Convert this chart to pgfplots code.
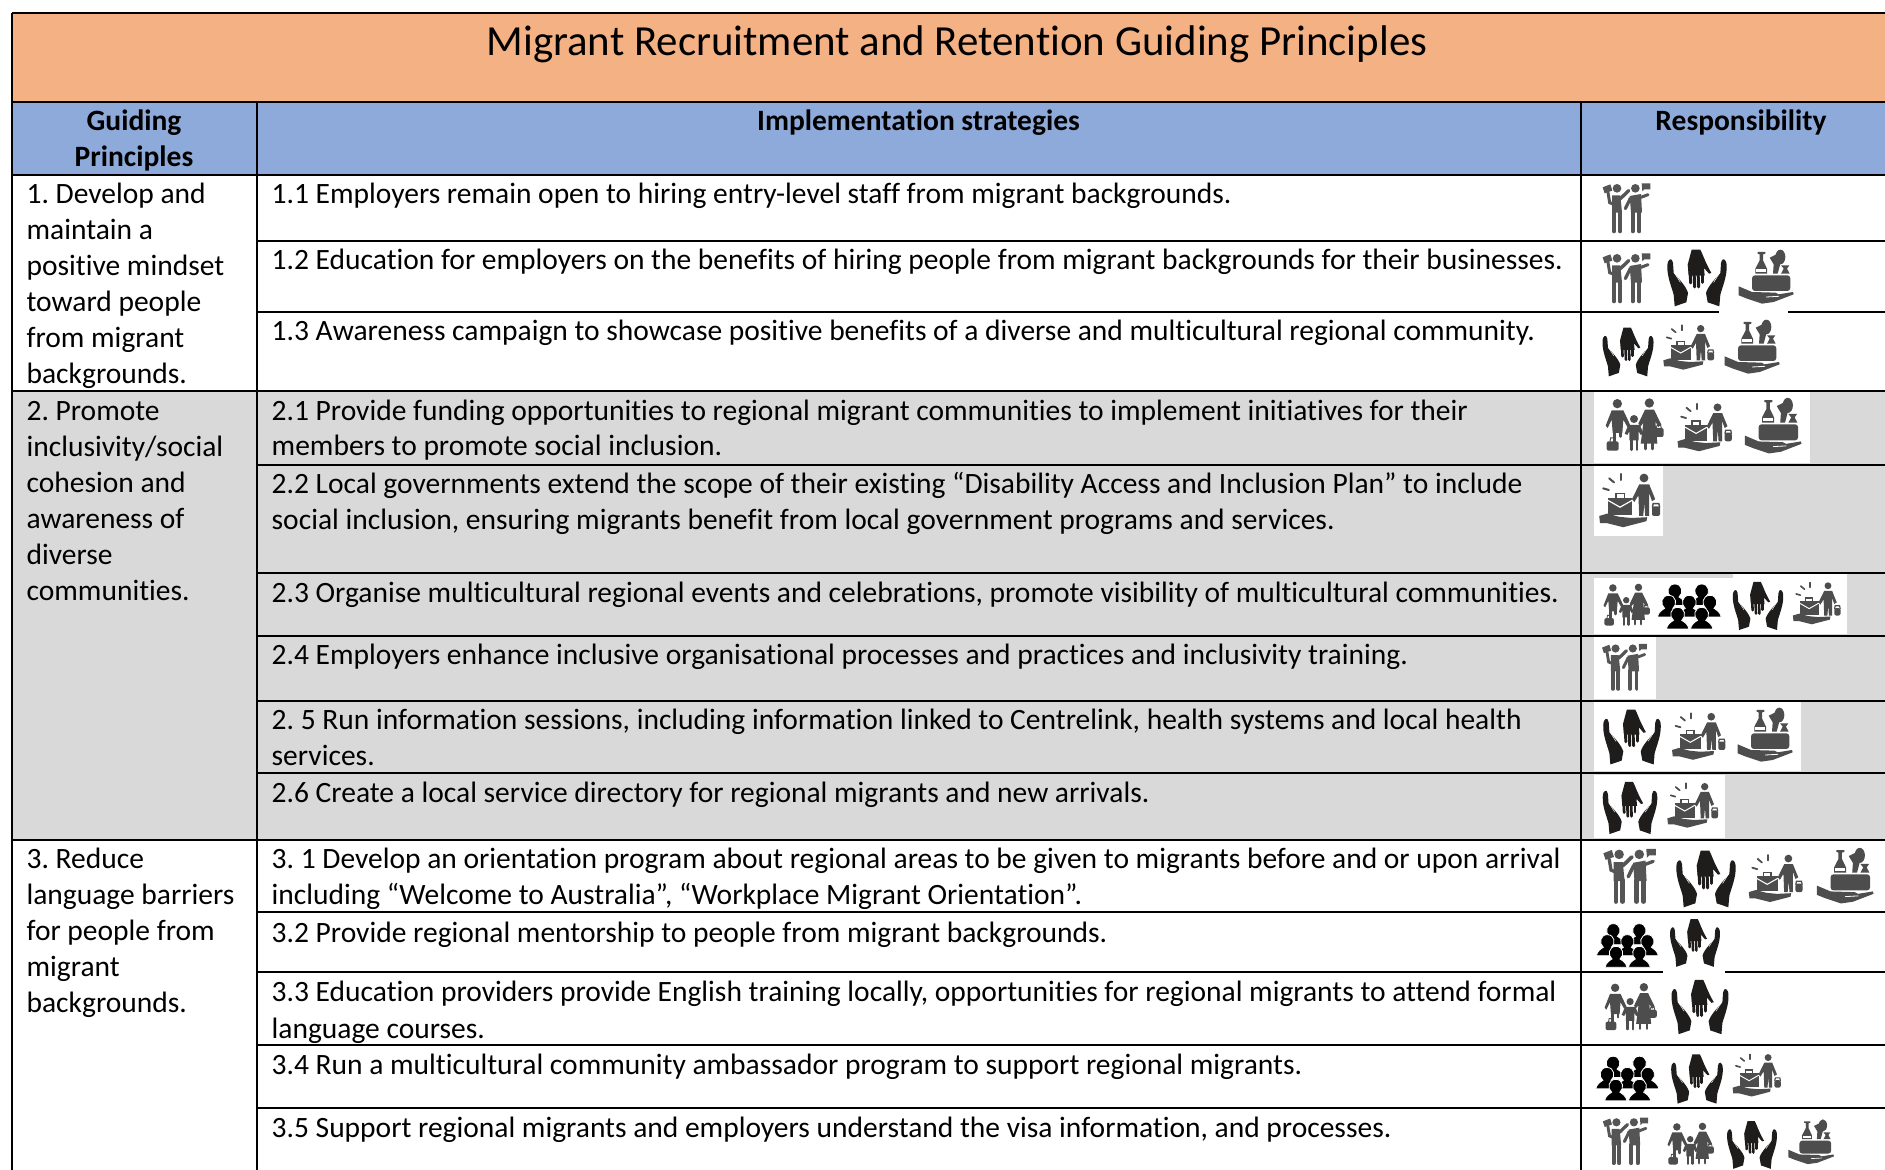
\documentclass[border=0pt]{standalone}
\usepackage{pgfplots}
\pgfplotsset{compat=1.18}
\usepackage{fontspec}
\setmainfont{Carlito}[RawFeature={-liga}]
\definecolor{orangeH}{HTML}{F4B183}
\definecolor{blueH}{HTML}{8EAADB}
\definecolor{grayR}{HTML}{D9D9D9}
\definecolor{icA}{HTML}{555555}
\definecolor{icB}{HTML}{4D4D4D}
\definecolor{icC}{HTML}{1F1C1C}
\newcommand{\bodyf}{\fontsize{29.5}{36}\selectfont\frenchspacing}
\newcommand{\T}[3]{\node[anchor=base west,inner sep=0pt,font=\bodyf,text=black] at (axis cs:#1,#2) {#3};}
\newcommand{\C}[3]{\node[anchor=base,inner sep=0pt,font=\bodyf\bfseries,text=black] at (axis cs:#1,#2) {#3};}
\newcommand{\HL}[3]{\addplot[black,line width=2pt] coordinates {(#1,#3) (#2,#3)};}
\newcommand{\BX}[5]{\addplot[fill=#5,draw=none] coordinates {(#1,#2) (#3,#2) (#3,#4) (#1,#4)} --cycle;}
\newcommand{\ic}[4]{\def\sc{#4}\pic[scale=0.3333*#4] at (#2,-#3) {#1};}
\tikzset{
 pics/workers/.style={code={
  \begin{scope}[yscale=-1,shift={(-167,-114)},fill=icA,draw=icA,line cap=round]
   \fill (140,55) circle (13);
   \fill (195,55) circle (13);
   \fill (97,52)--(120,43)--(126,62)--(103,70)--cycle;
   \fill (214,40)--(240,40)--(240,58)--(222,58)--(216,64)--cycle;
   \fill (125,76)--(150,76)--(155,128)--(125,128)--cycle;
   \fill (178,78)--(212,72)--(215,128)--(182,128)--cycle;
   \draw[line width={3.4pt*\sc}] (150,86)--(175,62);
   \draw[line width={3pt*\sc}] (113,68)--(118,98)--(142,108);
   \draw[line width={4pt*\sc}] (131,125)--(131,184);
   \draw[line width={4pt*\sc}] (149,125)--(149,184);
   \draw[line width={4pt*\sc}] (187,125)--(187,184);
   \draw[line width={4pt*\sc}] (207,125)--(207,184);
   \draw[line width={3pt*\sc}] (212,82)--(233,74);
   \draw[line width={3.2pt*\sc}] (180,85)--(165,116);
  \end{scope}}},
 pics/hands/.style={code={
  \begin{scope}[yscale=-1,shift={(-382,-325)},fill=icC,draw=icC,line cap=round]
   \fill (293,290) .. controls (293,265) and (308,262) .. (310,280) -- (312,310) .. controls (325,325) and (350,350) .. (355,370) -- (350,398) -- (315,410) -- (312,375) .. controls (305,350) and (292,320) .. (293,290) -- cycle;
   \fill (471,290) .. controls (471,265) and (456,262) .. (454,280) -- (452,310) .. controls (439,325) and (414,350) .. (409,370) -- (414,398) -- (449,410) -- (452,375) .. controls (459,350) and (472,320) .. (471,290) -- cycle;
   \fill (366,240) -- (392,240) .. controls (400,255) and (405,275) .. (425,310) -- (418,312) -- (403,295) -- (405,318) -- (357,318) -- (354,285) -- cycle;
   \draw[line width={3pt*\sc}] (361,300)--(363,340);
   \draw[line width={3pt*\sc}] (373,305)--(375,352);
   \draw[line width={3pt*\sc}] (385,305)--(387,352);
   \draw[line width={3pt*\sc}] (398,305)--(398,338);
   \draw[white,line width={.5pt*\sc}] (314,310)--(332,338);
   \draw[white,line width={.5pt*\sc}] (450,310)--(432,338);
  \end{scope}}},
 pics/brief/.style={code={
  \begin{scope}[yscale=-1,shift={(-357,-532)},fill=icB,draw=icB,line cap=round]
   \fill (392,477) circle (11);
   \fill (380,493)--(405,493)--(420,530)--(412,535)--(405,515)--(405,572)--(395,572)--(393,540)--(390,572)--(380,572)--(378,520)--(368,537)--(362,530)--cycle;
   \fill[rounded corners=2] (412,548) rectangle (432,572);
   \draw[line width={1.2pt*\sc}] (413,550)--(415,541)--(429,541)--(431,550);
   \fill (302,527) rectangle (362,570);
   \draw[line width={1.5pt*\sc}] (321,527)--(321,516)--(343,516)--(343,527);
   \draw[white,line width={1pt*\sc}] (302,533)--(332,550)--(362,533);
   \fill (280,572)--(300,566)--(330,574)--(360,577)--(400,575)--(398,585)--(340,600)--(300,590)--(282,590)--cycle;
   \draw[line width={1.7pt*\sc}] (290,503)--(304,507);
   \draw[line width={1.7pt*\sc}] (305,478)--(317,488);
   \draw[line width={1.7pt*\sc}] (335,467)--(335,482);
  \end{scope}}},
 pics/food/.style={code={
  \begin{scope}[yscale=-1,shift={(-547,-530)},fill=icB,draw=icB,line cap=round]
   \fill (522,455)--(545,455)--(545,460)--(538,462)--(538,480)--(550,505)--(550,520)--(515,520)--(515,505)--(528,480)--(528,462)--(522,460)--cycle;
   \fill[white] (518,507) rectangle (547,515);
   \fill (590,470) ellipse (15 and 22);
   \fill (558,472)--(578,462)--(590,490)--(582,520)--(568,520)--(570,492)--cycle;
   \fill (592,495)--(617,495)--(610,505)--(618,520)--(592,520)--(600,505)--cycle;
   \fill[rounded corners=3] (505,525) rectangle (620,572);
   \fill (465,558)--(505,575)--(575,577)--(585,582)--(628,575)--(630,582)--(570,605)--(535,610)--(490,595)--(465,585)--cycle;
   \draw[white,line width={.8pt*\sc}] (548,590)--(585,588);
  \end{scope}}},
 pics/family/.style={code={
  \begin{scope}[yscale=-1,shift={(-195,-766)},fill=icB,draw=icB,line cap=round]
   \fill (142,702) circle (14);
   \fill (238,700) circle (14);
   \fill (192,748) circle (12);
   \fill (125,722)--(160,722)--(180,765)--(172,772)--(160,750)--(157,790)--(128,790)--(125,750)--(113,775)--(107,768)--cycle;
   \draw[line width={3pt*\sc}] (133,785)--(133,838);
   \draw[line width={3pt*\sc}] (152,785)--(152,800);
   \fill (225,720)--(252,720)--(274,765)--(265,772)--(256,755)--(262,822)--(212,822)--(220,760)--(212,770)--(205,762)--cycle;
   \draw[line width={3pt*\sc}] (225,820)--(225,838);
   \draw[line width={3pt*\sc}] (248,820)--(248,838);
   \fill (175,766)--(210,766)--(220,792)--(212,796)--(206,785)--(206,812)--(178,812)--(178,785)--(172,796)--(164,792)--cycle;
   \draw[line width={2.8pt*\sc}] (184,808)--(184,840);
   \draw[line width={2.8pt*\sc}] (201,808)--(201,840);
   \fill[rounded corners=2] (110,815) rectangle (146,843);
   \draw[line width={1pt*\sc}] (120,815)--(122,805)--(134,805)--(136,815);
   \fill[rounded corners=2] (252,775) rectangle (281,802);
   \draw[line width={1pt*\sc}] (259,775)--(261,767)--(272,767)--(274,775);
  \end{scope}}},
 pics/crowd/.style={code={
  \begin{scope}[yscale=-1,shift={(-174,-318)},line cap=round]
   \foreach \px/\py in {130/272,208/272,112/305,232/305,172/305,138/340,208/340}{
    \filldraw[fill=black,draw=white,line width={.8pt*\sc}] (\px-33,\py+42) .. controls (\px-30,\py+28) and (\px-20,\py+22) .. (\px-12,\py+17) .. controls (\px-26,\py+6) and (\px-22,\py-21) .. (\px,\py-21) .. controls (\px+22,\py-21) and (\px+26,\py+6) .. (\px+12,\py+17) .. controls (\px+20,\py+22) and (\px+30,\py+28) .. (\px+33,\py+42) -- cycle;
   }
  \end{scope}}}
}
\begin{document}
\begin{tikzpicture}
\useasboundingbox (0,0) rectangle (1885pt,1170pt);
\begin{axis}[scale only axis,width=1885pt,height=1170pt,xmin=0,xmax=1885,ymin=0,ymax=1170,y dir=reverse,hide axis,clip=true]
% fills
\BX{12}{13}{1885}{102}{orangeH}
\BX{12}{102}{1885}{175}{blueH}
\BX{12}{391}{1885}{840}{grayR}
% rules
\HL{12}{1885}{13}
\HL{12}{1885}{102}
\HL{12}{1885}{175}
\HL{257}{1885}{241}
\HL{257}{1885}{312}
\HL{12}{1885}{391}
\HL{257}{1885}{465}
\HL{257}{1885}{573}
\HL{257}{1885}{636}
\HL{257}{1885}{701}
\HL{257}{1885}{773}
\HL{12}{1885}{840}
\HL{257}{1885}{912}
\HL{257}{1885}{972}
\HL{257}{1885}{1045}
\HL{257}{1885}{1108}
\addplot[black,line width=2pt] coordinates {(12,13) (12,1170)};
\addplot[black,line width=2pt] coordinates {(257,102) (257,1170)};
\addplot[black,line width=2pt] coordinates {(1581,102) (1581,1170)};
% white patches behind the icons
\BX{1594}{392}{1810}{463}{white}
\BX{1594}{466}{1663}{536}{white}
\BX{1594}{578}{1733}{634}{white}
\BX{1733}{574}{1847}{634}{white}
\BX{1594}{637}{1656}{699}{white}
\BX{1594}{702}{1801}{771}{white}
\BX{1594}{775}{1725}{838}{white}
\BX{1719}{310}{1788}{314}{white}
\BX{1663}{970}{1725}{974}{white}
% title
\node[anchor=base,inner sep=0pt,font=\fontsize{42.9}{48}\selectfont,text=black] at (axis cs:957,55) {Migrant Recruitment and Retention Guiding Principles};
\C{134}{130}{Guiding}
\C{134}{166}{Principles}
\C{918.5}{130}{Implementation strategies}
\C{1741}{130}{Responsibility}
% first column
\T{26.4}{203}{1. Develop and}
\T{26.4}{239}{maintain a}
\T{26.4}{275}{positive mindset}
\T{26.4}{311}{toward people}
\T{26.4}{347}{from migrant}
\T{26.4}{383}{backgrounds.}
\T{26.4}{420.5}{2. Promote}
\T{26.4}{456.5}{inclusivity/social}
\T{26.4}{492}{cohesion and}
\T{26.4}{528}{awareness of}
\T{26.4}{564}{diverse}
\T{26.4}{600}{communities.}
\T{26.4}{868}{3. Reduce}
\T{26.4}{904}{language barriers}
\T{26.4}{940}{for people from}
\T{26.4}{976}{migrant}
\T{26.4}{1012}{backgrounds.}
% second column
\T{271.5}{203}{1.1 Employers remain open to hiring entry-level staff from migrant backgrounds.}
\T{271.5}{269}{1.2 Education for employers on the benefits of hiring people from migrant backgrounds for their businesses.}
\T{271.5}{340}{1.3 Awareness campaign to showcase positive benefits of a diverse and multicultural regional community.}
\T{271.5}{420}{2.1 Provide funding opportunities to regional migrant communities to implement initiatives for their}
\T{271.5}{455}{members to promote social inclusion.}
\T{271.5}{493}{2.2 Local governments extend the scope of their existing “Disability Access and Inclusion Plan” to include}
\T{271.5}{529}{social inclusion, ensuring migrants benefit from local government programs and services.}
\T{271.5}{602}{2.3 Organise multicultural regional events and celebrations, promote visibility of multicultural communities.}
\T{271.5}{664}{2.4 Employers enhance inclusive organisational processes and practices and inclusivity training.}
\T{271.5}{729}{2. 5 Run information sessions, including information linked to Centrelink, health systems and local health}
\T{271.5}{765}{services.}
\T{271.5}{802}{2.6 Create a local service directory for regional migrants and new arrivals.}
\T{271.5}{868}{3. 1 Develop an orientation program about regional areas to be given to migrants before and or upon arrival}
\T{271.5}{904}{including “Welcome to Australia”, “Workplace Migrant Orientation”.}
\T{271.5}{942}{3.2 Provide regional mentorship to people from migrant backgrounds.}
\T{271.5}{1001}{3.3 Education providers provide English training locally, opportunities for regional migrants to attend formal}
\T{271.5}{1038}{language courses.}
\T{271.5}{1074}{3.4 Run a multicultural community ambassador program to support regional migrants.}
\T{271.5}{1137}{3.5 Support regional migrants and employers understand the visa information, and processes.}
\end{axis}
\begin{scope}[x=1pt,y=1pt,yshift=1170pt]
\ic{workers}{1626}{208}{1}
\ic{workers}{1626}{278}{1}
\ic{hands}{1697}{278}{1}
\ic{food}{1766}{277}{1}
\ic{hands}{1628}{352}{.86}
\ic{brief}{1689}{347}{1}
\ic{food}{1752}{347}{1}
\ic{family}{1635}{425}{1}
\ic{brief}{1705}{427}{1.07}
\ic{food}{1773}{426}{1.03}
\ic{brief}{1630}{500}{1.2}
\ic{family}{1627}{605}{.8}
\ic{crowd}{1690}{607}{1.03}
\ic{hands}{1758}{606}{.85}
\ic{brief}{1817}{603}{.94}
\ic{workers}{1624}{667}{.94}
\ic{hands}{1632}{737}{.97}
\ic{brief}{1699}{736}{1.05}
\ic{food}{1765}{735}{1}
\ic{hands}{1630}{808}{.92}
\ic{brief}{1693}{805}{1}
\ic{workers}{1629}{876}{1.1}
\ic{hands}{1706}{879}{1}
\ic{brief}{1776}{878}{1.06}
\ic{food}{1845}{876}{1.03}
\ic{crowd}{1628}{946}{1}
\ic{hands}{1695}{943}{.84}
\ic{family}{1631}{1007}{.9}
\ic{hands}{1700}{1007}{.96}
\ic{crowd}{1628}{1079}{1.02}
\ic{hands}{1697}{1079}{.87}
\ic{brief}{1757}{1075}{.95}
\ic{workers}{1625}{1141}{.95}
\ic{family}{1691}{1144}{.8}
\ic{hands}{1752}{1145}{.84}
\ic{food}{1811}{1142}{.83}
\end{scope}
\end{tikzpicture}
\end{document}
